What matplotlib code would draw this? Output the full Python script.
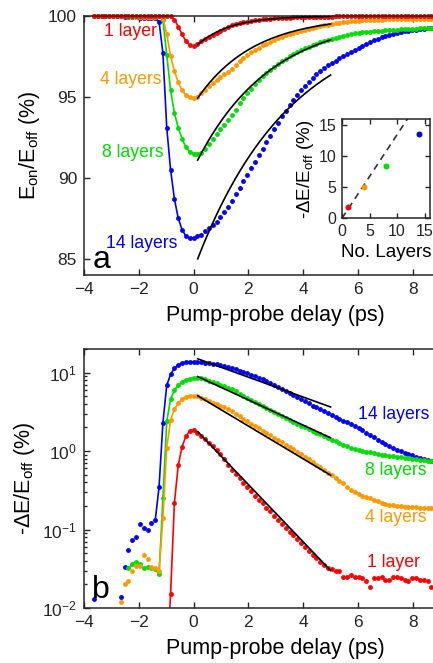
import numpy as np
import matplotlib
matplotlib.use("Agg")
import matplotlib.pyplot as plt
from matplotlib.ticker import LogLocator, NullFormatter

plt.rcParams['font.family'] = ['Liberation Sans', 'DejaVu Sans']
plt.rcParams['mathtext.fontset'] = 'custom'
plt.rcParams['mathtext.rm'] = 'Liberation Sans'
plt.rcParams['mathtext.it'] = 'Liberation Sans:italic'
plt.rcParams['mathtext.bf'] = 'Liberation Sans:bold'

# ---------------- data ----------------
delay = np.round(-3.64 + 0.14 * np.arange(90), 2)   # pump-probe delay grid (ps)

labels = ['1 layer', '4 layers', '8 layers', '14 layers']
n_layers = [1, 4, 8, 14]
colors = ['#ff0000', '#ff9900', '#00dd00', '#0000ff']

# -dE/E_off (%) for each sample
dE_1 = [0.002] * 20 + [
    0.015, 0.22, 0.66, 1.14, 1.55, 1.8, 1.88, 1.72, 1.57, 1.42,
    1.28, 1.16, 1.03, 0.91, 0.79, 0.67, 0.58, 0.51, 0.45, 0.395,
    0.35, 0.31, 0.27, 0.24, 0.215, 0.19, 0.17, 0.15, 0.133, 0.118,
    0.105, 0.094, 0.084, 0.075, 0.067, 0.060, 0.054, 0.048, 0.043, 0.039,
    0.035, 0.032, 0.031, 0.030, 0.030, 0.0245, 0.0245, 0.026, 0.025, 0.0245,
    0.024, 0.022, 0.0187, 0.024, 0.024, 0.025, 0.023, 0.0225, 0.025, 0.025,
    0.024, 0.0225, 0.022, 0.024, 0.024, 0.023, 0.023, 0.022, 0.0187, 0.021]

dE_4 = [
    0.004, 0.004, 0.004, 0.004, 0.004, 0.004, 0.004, 0.012, 0.020, 0.022,
    0.030, 0.034, 0.034, 0.048, 0.042, 0.033, 0.032, 0.03, 0.14, 1.1,
    2.5, 3.4, 4.1, 4.6, 4.9, 5.0, 5.05, 5.0, 4.75, 4.55,
    4.35, 4.15, 3.95, 3.78, 3.6, 3.45, 3.28, 3.0, 2.81, 2.6,
    2.4, 2.24, 2.09, 1.95, 1.82, 1.70, 1.59, 1.48, 1.38, 1.29,
    1.2, 1.12, 1.05, 0.98, 0.92, 0.85, 0.79, 0.73, 0.67, 0.62,
    0.57, 0.53, 0.49, 0.45, 0.42, 0.39, 0.35, 0.32, 0.30, 0.285,
    0.27, 0.26, 0.25, 0.24, 0.23, 0.22, 0.212, 0.207, 0.203, 0.200,
    0.198, 0.196, 0.194, 0.193, 0.191, 0.190, 0.188, 0.187, 0.186, 0.185]

dE_8 = [
    0.004, 0.004, 0.004, 0.004, 0.004, 0.004, 0.004, 0.004, 0.004, 0.032,
    0.036, 0.039, 0.036, 0.032, 0.033, 0.032, 0.031, 0.027, 0.25, 2.4,
    4.6, 6.0, 6.9, 7.6, 8.1, 8.4, 8.5, 8.5, 8.45, 8.2,
    7.9, 7.6, 7.3, 7.0, 6.75, 6.45, 6.1, 5.8, 5.4, 5.08,
    4.78, 4.5, 4.22, 3.97, 3.73, 3.51, 3.32, 3.13, 2.96, 2.8,
    2.64, 2.5, 2.36, 2.23, 2.11, 2.0, 1.9, 1.8, 1.71, 1.63,
    1.55, 1.47, 1.40, 1.33, 1.27, 1.21, 1.16, 1.11, 1.07, 1.03,
    1.0, 0.98, 0.96, 0.94, 0.92, 0.90, 0.89, 0.875, 0.86, 0.845,
    0.83, 0.82, 0.81, 0.80, 0.79, 0.77, 0.76, 0.75, 0.74, 0.73]

dE_14 = [
    0.013, 0.004, 0.004, 0.004, 0.004, 0.004, 0.004, 0.014, 0.033, 0.055,
    0.073, 0.081, 0.116, 0.105, 0.098, 0.122, 0.131, 0.35, 2.3, 6.9,
    9.5, 11.3, 12.5, 13.2, 13.6, 13.7, 13.7, 13.6, 13.5, 13.3,
    13.1, 12.9, 12.7, 12.4, 12.1, 11.8, 11.4, 11.0, 10.6, 10.2,
    9.8, 9.4, 9.0, 8.6, 8.2, 7.8, 7.4, 7.0, 6.6, 6.2,
    5.85, 5.5, 5.2, 4.9, 4.6, 4.3, 4.05, 3.8, 3.6, 3.4,
    3.2, 3.05, 2.9, 2.75, 2.6, 2.45, 2.32, 2.2, 2.08, 1.96,
    1.85, 1.72, 1.60, 1.49, 1.39, 1.30, 1.22, 1.15, 1.09, 1.04,
    0.99, 0.95, 0.91, 0.88, 0.85, 0.82, 0.79, 0.77, 0.75, 0.73]

series = [dE_1, dE_4, dE_8, dE_14]

# single exponential fits: A*exp(-(t-t0)/tau), t0..t1
fit_amp = [1.77, 5.07, 8.9, 15.0]
fit_tau = [1.19, 2.08, 2.70, 3.43]
fit_t0, fit_t1 = 0.15, 5.0

# inset: peak -dE/E_off vs number of layers
peak_dE = [1.8, 5.0, 8.5, 13.7]
trend_x = [0, 12]
trend_slope = 1.35

# label positions
labA_x = [-3.26, -3.42, -3.35, -3.2]
labA_y = [99.07, 96.05, 91.58, 85.93]
labB_x = [6.32, 6.26, 6.26, 6.0]
labB_y = [0.0375, 0.141, 0.57, 2.9]

# ---------------- figure ----------------
W, H = 433, 663
fig = plt.figure(figsize=(W / 100, H / 100), dpi=100)
axA = fig.add_axes([84 / W, (H - 275) / H, 383.6 / W, 259 / H])
axB = fig.add_axes([84 / W, (H - 608) / H, 383.6 / W, 259 / H])

axcol = '#262626'
for ax in (axA, axB):
    for s in ax.spines.values():
        s.set_linewidth(1.1)
        s.set_color(axcol)
    ax.tick_params(which='both', direction='in', top=True, right=True,
                   labelsize=12.5, colors=axcol, labelcolor='#262626', width=1)
    ax.tick_params(which='major', length=4.5, pad=5)
    ax.tick_params(which='minor', length=2.5)
    ax.set_xlim(-4, 10)
    ax.set_xticks([-4, -2, 0, 2, 4, 6, 8])
    ax.set_xlabel('Pump-probe delay (ps)', fontsize=15.5, labelpad=5.5)

t_fit = np.linspace(fit_t0, fit_t1, 200)
ms = 3.5
lw = 1.2
iline_a = 29
iline_b = 28
start_b = [0, 16, 9, 16]

for i in [3, 2, 1, 0]:
    y = np.array(series[i])
    c = colors[i]
    # panel a
    axA.plot(delay[:iline_a], 100 - y[:iline_a], '-', color=c, lw=lw, clip_on=False, zorder=2)
    axA.plot(delay, 100 - y, 'o', color=c, ms=ms, mec='none', clip_on=False, zorder=2)
    # panel b
    axB.plot(delay[start_b[i]:iline_b], y[start_b[i]:iline_b], '-', color=c, lw=lw, zorder=2)
    axB.plot(delay, y, 'o', color=c, ms=ms, mec='none', zorder=2)

for i in range(4):
    f = fit_amp[i] * np.exp(-(t_fit - fit_t0) / fit_tau[i])
    axA.plot(t_fit, 100 - f, color='k', lw=1.2, zorder=3)
    axB.plot(t_fit, f, color='k', lw=1.2, zorder=3)

axA.set_ylim(84, 100)
axA.set_yticks([85, 90, 95, 100])
axA.set_ylabel(r'E$_{\rm on}$/E$_{\rm off}$ (%)', fontsize=15.5, labelpad=4)

axB.set_yscale('log')
axB.set_ylim(0.01, 20)
axB.yaxis.set_major_locator(LogLocator(base=10, numticks=10))
axB.yaxis.set_minor_locator(LogLocator(base=10, subs=np.arange(2, 10), numticks=20))
axB.yaxis.set_minor_formatter(NullFormatter())
axB.set_ylabel('-ΔE/E$_{\\rm off}$ (%)', fontsize=15.5, labelpad=4)

for i in range(4):
    axA.text(labA_x[i], labA_y[i], labels[i], color=colors[i], fontsize=12.7,
             ha='left', va='center', zorder=5)
    axB.text(labB_x[i], labB_y[i], labels[i], color=colors[i], fontsize=12.7,
             ha='left', va='center', zorder=5)

axA.text(-3.7, 84.45, 'a', fontsize=23, ha='left', va='baseline', color='k')
axB.text(-3.7, 0.0135, 'b', fontsize=23, ha='left', va='baseline', color='k')

# inset
axI = fig.add_axes([342 / W, (H - 218.3) / H, 88 / W, 99 / H])
for s in axI.spines.values():
    s.set_linewidth(1.1)
    s.set_color(axcol)
axI.tick_params(which='both', direction='in', top=True, right=True,
                labelsize=11.5, length=3.5, width=1, pad=4, colors=axcol)
axI.plot(trend_x, [trend_slope * v for v in trend_x], linestyle=(0, (4, 3)),
         color='#333333', lw=1.2)
for i in range(4):
    axI.plot(n_layers[i], peak_dE[i], 'o', color=colors[i], ms=4.3, mec='none')
axI.set_xlim(0, 16)
axI.set_ylim(0, 16)
axI.set_xticks([0, 5, 10, 15])
axI.set_yticks([0, 5, 10, 15])
axI.set_xlabel('No. Layers', fontsize=13.5, labelpad=4)
axI.set_ylabel('-ΔE/E$_{\\rm off}$ (%)', fontsize=13.5, labelpad=2)

fig.savefig('out.png', dpi=100)
